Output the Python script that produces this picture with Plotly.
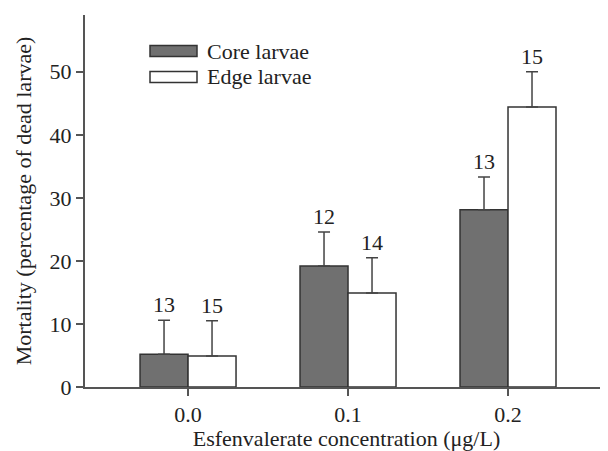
import plotly.graph_objects as go

categories = [0.0, 0.1, 0.2]
tick_labels = ["0.0", "0.1", "0.2"]
core_mean = [5.2, 19.2, 28.1]
core_err = [5.4, 5.4, 5.2]
core_n = ["13", "12", "13"]
edge_mean = [4.9, 14.9, 44.4]
edge_err = [5.6, 5.6, 5.6]
edge_n = ["15", "14", "15"]

FONT = "Times New Roman, Liberation Serif, Tinos, DejaVu Serif, Noto Serif, serif"
FS = 22
xpos = list(range(len(categories)))

fig = go.Figure()
fig.add_trace(go.Bar(
    x=xpos, y=core_mean, name="Core larvae",
    marker=dict(color="#707070", line=dict(color="#333333", width=1.5)),
    error_y=dict(type="data", array=core_err, symmetric=False, arrayminus=[0]*3,
                 color="#444444", thickness=1.5, width=6),
    showlegend=False,
))
fig.add_trace(go.Bar(
    x=xpos, y=edge_mean, name="Edge larvae",
    marker=dict(color="white", line=dict(color="#333333", width=1.5)),
    error_y=dict(type="data", array=edge_err, symmetric=False, arrayminus=[0]*3,
                 color="#444444", thickness=1.5, width=6),
    showlegend=False,
))

bw = 0.3
for i in xpos:
    fig.add_annotation(x=i - bw/2, y=core_mean[i] + core_err[i], text=core_n[i],
                       showarrow=False, yanchor="bottom", yshift=1,
                       font=dict(family=FONT, size=FS, color="#222"))
    fig.add_annotation(x=i + bw/2, y=edge_mean[i] + edge_err[i], text=edge_n[i],
                       showarrow=False, yanchor="bottom", yshift=1,
                       font=dict(family=FONT, size=FS, color="#222"))

# legend drawn manually
PW = 523.0
PH = 372.0
leg = [("Core larvae", "#707070", (387 - 51) / PH), ("Edge larvae", "white", (387 - 77) / PH)]
for name, col, yc in leg:
    fig.add_shape(type="rect", xref="paper", yref="paper",
                  x0=(150-85)/PW, x1=(197-85)/PW, y0=yc - 5.5/PH, y1=yc + 5.5/PH,
                  fillcolor=col, line=dict(color="#333333", width=1.5))
    fig.add_annotation(xref="paper", yref="paper", x=(205-85)/PW, y=yc, text=name,
                       showarrow=False, xanchor="left", yanchor="middle",
                       font=dict(family=FONT, size=FS, color="#222"))

fig.update_layout(
    width=600, height=443,
    margin=dict(l=77, r=0, t=7, b=64, pad=0),
    paper_bgcolor="white", plot_bgcolor="white",
    barmode="group", bargap=0.4, bargroupgap=0,
    font=dict(family=FONT, size=FS, color="#222"),
    xaxis=dict(
        range=[-0.644, 2.625], tickvals=xpos, ticktext=tick_labels,
        showline=True, linecolor="#555555", linewidth=2,
        ticks="outside", ticklen=7, tickcolor="#555555", tickwidth=1.5,
        showgrid=False, zeroline=False,
        title=dict(text="Esfenvalerate concentration (μg/L)", standoff=4,
                   font=dict(family=FONT, size=FS)),
        tickfont=dict(family=FONT, size=FS),
    ),
    yaxis=dict(
        range=[0, 59], tickvals=[0, 10, 20, 30, 40, 50],
        showline=True, linecolor="#555555", linewidth=2,
        ticks="outside", ticklen=7, tickcolor="#555555", tickwidth=1.5,
        showgrid=False, zeroline=False,
        title=dict(text="Mortality (percentage of dead larvae)", standoff=12,
                   font=dict(family=FONT, size=FS)),
        tickfont=dict(family=FONT, size=FS),
    ),
)

fig.write_html("out.html")
